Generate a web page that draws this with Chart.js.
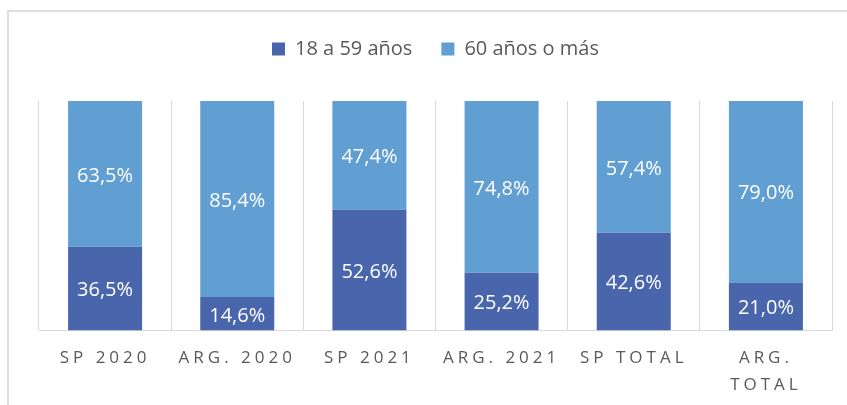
<!DOCTYPE html>
<html>
<head>
<meta charset="utf-8">
<script src="https://cdn.jsdelivr.net/npm/chart.js@4.4.1/dist/chart.umd.min.js"></script>
<style>
  html, body { margin: 0; padding: 0; background: #fff; }
  #wrap { position: relative; width: 847px; height: 405px; overflow: hidden; }
  #frame { position: absolute; left: 7px; top: 10px; width: 900px; height: 500px; border: 2px solid #dedede; }
  #chart { position: absolute; left: 0; top: 0; }
</style>
</head>
<body>
<div id="wrap">
  <div id="frame"></div>
  <canvas id="chart" width="847" height="405"></canvas>
</div>
<script>
const categories = ['SP 2020', 'ARG. 2020', 'SP 2021', 'ARG. 2021', 'SP TOTAL', ['ARG.', 'TOTAL']];
const adultos = [36.5, 14.6, 52.6, 25.2, 42.6, 21.0];
const mayores = [63.5, 85.4, 47.4, 74.8, 57.4, 79.0];

const fontFamily = "'Open Sans', sans-serif";

// legend: add space below it
const legendSpace = {
    id: 'legendSpace',
    beforeInit(chart) {
        const fit = chart.legend.fit;
        chart.legend.fit = function () {
            fit.bind(chart.legend)();
            this.height += 32;
        };
    }
};

// values in the middle of each segment, then letter spacing for the axis labels
const segmentLabels = {
    id: 'segmentLabels',
    afterDatasetsDraw(chart) {
        const ctx = chart.ctx;
        ctx.save();
        ctx.letterSpacing = '0px';
        ctx.font = '20px ' + fontFamily;
        ctx.fillStyle = '#ffffff';
        ctx.textAlign = 'center';
        ctx.textBaseline = 'middle';
        chart.data.datasets.forEach((ds, i) => {
            chart.getDatasetMeta(i).data.forEach((bar, j) => {
                const p = bar.getProps(['x', 'y', 'base'], true);
                const txt = ds.data[j].toFixed(1).replace('.', ',') + '%';
                ctx.fillText(txt, p.x, (p.y + p.base) / 2 + 2);
            });
        });
        ctx.restore();
        ctx.letterSpacing = '4px';
    },
    afterDraw(chart) {
        chart.ctx.letterSpacing = '0px';
    }
};

new Chart(document.getElementById('chart'), {
    type: 'bar',
    data: {
        labels: categories,
        datasets: [{
            label: '18 a 59 años',
            data: adultos,
            backgroundColor: '#4966ad'
        }, {
            label: '60 años o más',
            data: mayores,
            backgroundColor: '#619fd3'
        }]
    },
    options: {
        responsive: false,
        animation: false,
        layout: { padding: { left: 39, right: 15, top: 10, bottom: 8 } },
        datasets: {
            bar: { categoryPercentage: 1, barPercentage: 0.56 }
        },
        plugins: {
            legend: {
                position: 'top',
                labels: {
                    boxWidth: 13,
                    boxHeight: 13,
                    padding: 29,
                    color: '#595959',
                    font: { family: fontFamily, size: 20 }
                }
            },
            tooltip: { enabled: false }
        },
        scales: {
            x: {
                stacked: true,
                grid: { color: '#d9d9d9', drawTicks: false, offset: true },
                border: { color: '#d9d9d9' },
                ticks: {
                    z: 1,
                    padding: 14,
                    maxRotation: 0,
                    autoSkip: false,
                    color: '#595959',
                    font: { family: fontFamily, size: 17, lineHeight: 1.6 }
                },
                afterFit(scale) {
                    scale.height -= 16;
                }
            },
            y: {
                stacked: true,
                display: false,
                min: 0,
                max: 100
            }
        }
    },
    plugins: [legendSpace, segmentLabels]
});
</script>
</body>
</html>
